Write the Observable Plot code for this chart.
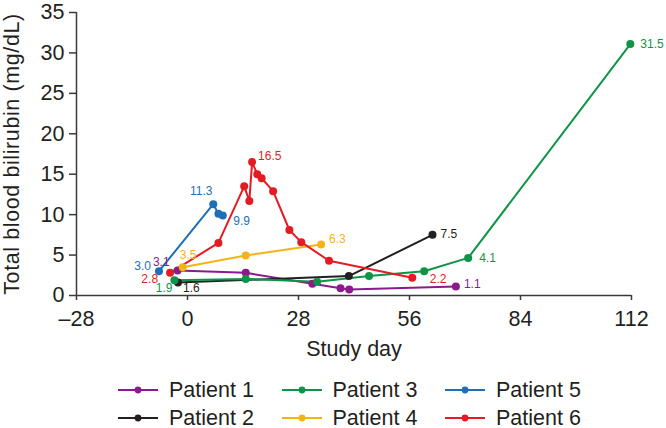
<!DOCTYPE html>
<html><head><meta charset="utf-8">
<script src="https://cdn.jsdelivr.net/npm/d3@7"></script>
<script src="https://cdn.jsdelivr.net/npm/@observablehq/plot@0.6"></script>
<style>
body{margin:0;background:#fff;font-family:"Liberation Sans",Arial,sans-serif;color:#231f20;}
#legend{position:relative;width:666px;height:58px;}
.item{position:absolute;display:flex;align-items:center;height:24px;font-size:21.5px;white-space:nowrap;line-height:24px}
.item svg{margin-right:11px;display:block}
</style></head><body><div id="chart"></div><div id="legend"></div><script>
// ---- data ----
const patients = ["Patient 1","Patient 2","Patient 3","Patient 4","Patient 5","Patient 6"];
const colors   = ["#8c1a8c","#231f20","#0f9447","#f5b318","#1e6fb5","#e31b23"];

const p1Day = [-2.5, 14.7, 31.5, 38.6, 40.8, 67.7];
const p1Val = [3.1, 2.8, 1.45, 0.9, 0.75, 1.1];
const p2Day = [-2.4, 40.7, 61.8];
const p2Val = [1.6, 2.4, 7.5];
const p3Day = [-3.3, 14.7, 32.7, 45.8, 59.7, 70.8, 111.7];
const p3Val = [1.9, 2.05, 1.7, 2.4, 3.0, 4.65, 31.1];
const p4Day = [-1.2, 14.7, 33.7];
const p4Val = [3.5, 4.95, 6.3];
const p5Day = [-7.2, 6.5, 7.8, 8.9];
const p5Val = [3.0, 11.3, 10.1, 9.9];
const p6Day = [-4.4, 7.8, 14.3, 15.6, 16.3, 17.6, 18.7, 21.6, 25.7, 28.7, 35.7, 56.7];
const p6Val = [2.8, 6.5, 13.5, 11.7, 16.5, 15.0, 14.5, 12.9, 8.1, 6.6, 4.3, 2.2];

// annotated values: [patient, point index, text]
const pointLabels = [
  ["Patient 1", 0, "3.1"], ["Patient 1", 5, "1.1"],
  ["Patient 2", 0, "1.6"], ["Patient 2", 2, "7.5"],
  ["Patient 3", 0, "1.9"], ["Patient 3", 5, "4.1"], ["Patient 3", 6, "31.5"],
  ["Patient 4", 0, "3.5"], ["Patient 4", 2, "6.3"],
  ["Patient 5", 0, "3.0"], ["Patient 5", 1, "11.3"], ["Patient 5", 3, "9.9"],
  ["Patient 6", 0, "2.8"], ["Patient 6", 4, "16.5"], ["Patient 6", 11, "2.2"]
];

const xTicks = [-28, 0, 28, 56, 84, 112];
const xTickLabels = ["\u201328", "0", "28", "56", "84", "112"];
const yTicks = [0, 5, 10, 15, 20, 25, 30, 35];
const xTitle = "Study day";
const yTitle = "Total blood bilirubin (mg/dL)";

// ---- build table ----
const seriesDays = [p1Day, p2Day, p3Day, p4Day, p5Day, p6Day];
const seriesVals = [p1Val, p2Val, p3Val, p4Val, p5Val, p6Val];
const rows = [];
patients.forEach((p, i) => seriesDays[i].forEach((d, j) => rows.push({patient: p, day: d, value: seriesVals[i][j]})));

// label placement (style)
const labelStyle = {
  "Patient 1|0": {dx: -8, dy: -8, a: "end"},
  "Patient 1|5": {dx: 8, dy: -2, a: "start"},
  "Patient 2|0": {dx: 5, dy: 6, a: "start"},
  "Patient 2|2": {dx: 8, dy: -1, a: "start"},
  "Patient 3|0": {dx: -2, dy: 8, a: "end"},
  "Patient 3|5": {dx: 11, dy: 0, a: "start"},
  "Patient 3|6": {dx: 10, dy: 0, a: "start"},
  "Patient 4|0": {dx: -3, dy: -12.5, a: "start"},
  "Patient 4|2": {dx: 8, dy: -5, a: "start"},
  "Patient 5|0": {dx: -8, dy: -5.5, a: "end"},
  "Patient 5|1": {dx: -12, dy: -12.5, a: "middle"},
  "Patient 5|3": {dx: 10.5, dy: 5.5, a: "start"},
  "Patient 6|0": {dx: -12, dy: 6, a: "end"},
  "Patient 6|4": {dx: 6, dy: -6, a: "start"},
  "Patient 6|11": {dx: 17.5, dy: 1.5, a: "start"}
};

const labelMarks = pointLabels.map(([p, j, t]) => {
  const i = patients.indexOf(p);
  const s = labelStyle[p + "|" + j];
  return Plot.text([{day: seriesDays[i][j], value: seriesVals[i][j], t}], {
    x: "day", y: "value", text: "t", fill: colors[i],
    dx: s.dx, dy: s.dy, textAnchor: s.a, fontSize: 12
  });
});

const axisColor = "#3a3a3a";

const chart = Plot.plot({
  width: 666,
  height: 370,
  marginLeft: 76,
  marginRight: 35,
  marginTop: 12,
  marginBottom: 75,
  style: {fontFamily: "'Liberation Sans', Arial, sans-serif", fontSize: "21.5px", color: "#231f20", background: "#fff"},
  x: {domain: [-28, 112]},
  y: {domain: [0, 35]},
  color: {domain: patients, range: colors},
  marks: [
    Plot.axisX({ticks: xTicks, tickFormat: d => xTickLabels[xTicks.indexOf(d)], tickSize: 5, tickPadding: 10,
      stroke: axisColor, strokeWidth: 1.5, label: xTitle, labelAnchor: "center", labelArrow: "none", labelOffset: 60}),
    Plot.axisY({ticks: yTicks, tickSize: 7, tickPadding: 5, stroke: axisColor, strokeWidth: 1.5,
      label: yTitle, labelAnchor: "center", labelArrow: "none"}),
    Plot.ruleY([0], {stroke: axisColor, strokeWidth: 1.5}),
    Plot.ruleX([-28], {stroke: axisColor, strokeWidth: 1.5}),
    Plot.line(rows, {x: "day", y: "value", z: "patient", stroke: "patient", strokeWidth: 2}),
    Plot.dot(rows, {x: "day", y: "value", fill: "patient", r: 4}),
    ...labelMarks
  ]
});
document.getElementById("chart").appendChild(chart);
d3.select(chart).selectAll("[aria-label='y-axis label'] text").style("letter-spacing", "0.6px");

// ---- legend ----
const legend = document.getElementById("legend");
patients.forEach((p, i) => {
  const col = Math.floor(i / 2), row = i % 2;
  const item = document.createElement("div");
  item.className = "item";
  item.style.left = (118 + col * 163.5) + "px";
  item.style.top = (20 + row * 27.5 - 12) + "px";
  item.innerHTML = `<svg width="40" height="12"><line x1="0" x2="40" y1="6" y2="6" stroke="${colors[i]}" stroke-width="2"/><circle cx="20" cy="6" r="3.4" fill="${colors[i]}"/></svg><span>${p}</span>`;
  legend.appendChild(item);
});
</script></body></html>
